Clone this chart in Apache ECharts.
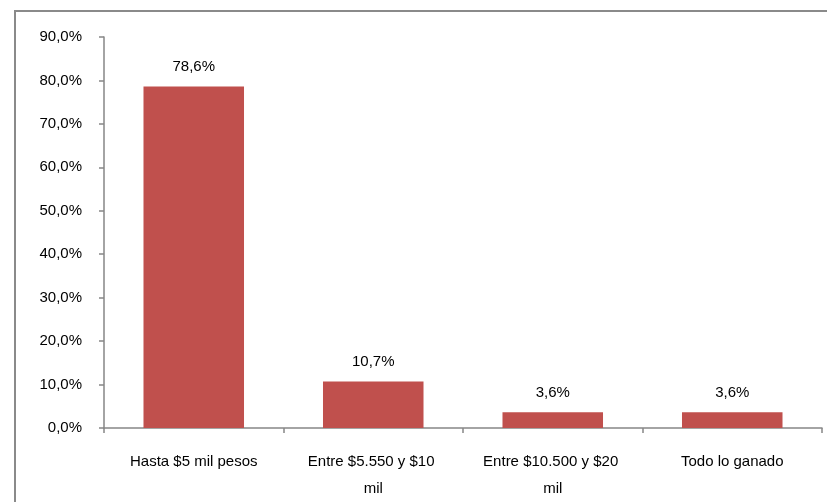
<!DOCTYPE html>
<html>
<head>
<meta charset="utf-8">
<style>
  html, body { margin: 0; padding: 0; background: #fff; }
  #chart { width: 827px; height: 502px; }
</style>
<script src="https://cdn.jsdelivr.net/npm/echarts@6/dist/echarts.min.js"></script>
</head>
<body>
<div id="chart"></div>
<script>
// Distribution of answers by income bracket (percent of respondents)
const categories = ['Hasta $5 mil pesos', 'Entre $5.550 y $10 mil', 'Entre $10.500 y $20 mil', 'Todo lo ganado'];
const shares = [78.6, 10.7, 3.6, 3.6];
const yTicks = [0, 10, 20, 30, 40, 50, 60, 70, 80, 90];

const FONT = '"Liberation Sans", Arial, sans-serif';
const FS = 15;
const fmtPct = v => v.toFixed(1).replace('.', ',') + '%';

const chart = echarts.init(document.getElementById('chart'), null, { renderer: 'canvas' });
chart.setOption({
  animation: false,
  backgroundColor: '#ffffff',
  textStyle: { fontFamily: FONT },
  graphic: [{
    type: 'rect',
    shape: { x: 15, y: 11, width: 900, height: 600 },
    style: { fill: 'none', stroke: '#8a8a8a', lineWidth: 2 },
    silent: true
  }],
  grid: { left: 104, top: 37, right: 5, bottom: 74, containLabel: false },
  xAxis: {
    type: 'category',
    data: categories,
    axisLine: { lineStyle: { color: '#868686', width: 1.5 } },
    axisTick: { show: true, length: 5, alignWithLabel: false, lineStyle: { color: '#868686', width: 1.5 } },
    axisLabel: {
      color: '#000', fontSize: FS, fontFamily: FONT, margin: 20,
      width: 140, overflow: 'break', lineHeight: 27, interval: 0
    }
  },
  yAxis: {
    type: 'value',
    min: yTicks[0],
    max: yTicks[yTicks.length - 1],
    interval: 10,
    splitLine: { show: false },
    axisLine: { show: true, lineStyle: { color: '#868686', width: 1.5 } },
    axisTick: { show: true, length: 5, lineStyle: { color: '#868686', width: 1.5 } },
    axisLabel: {
      color: '#000', fontSize: FS, fontFamily: FONT, margin: 22,
      formatter: v => fmtPct(v)
    }
  },
  series: [{
    type: 'bar',
    data: shares,
    barWidth: '56%',
    itemStyle: { color: '#C0504D' },
    label: {
      show: true, position: 'top', distance: 12,
      color: '#000', fontSize: FS, fontFamily: FONT,
      formatter: p => fmtPct(p.value)
    }
  }]
});
</script>
</body>
</html>
